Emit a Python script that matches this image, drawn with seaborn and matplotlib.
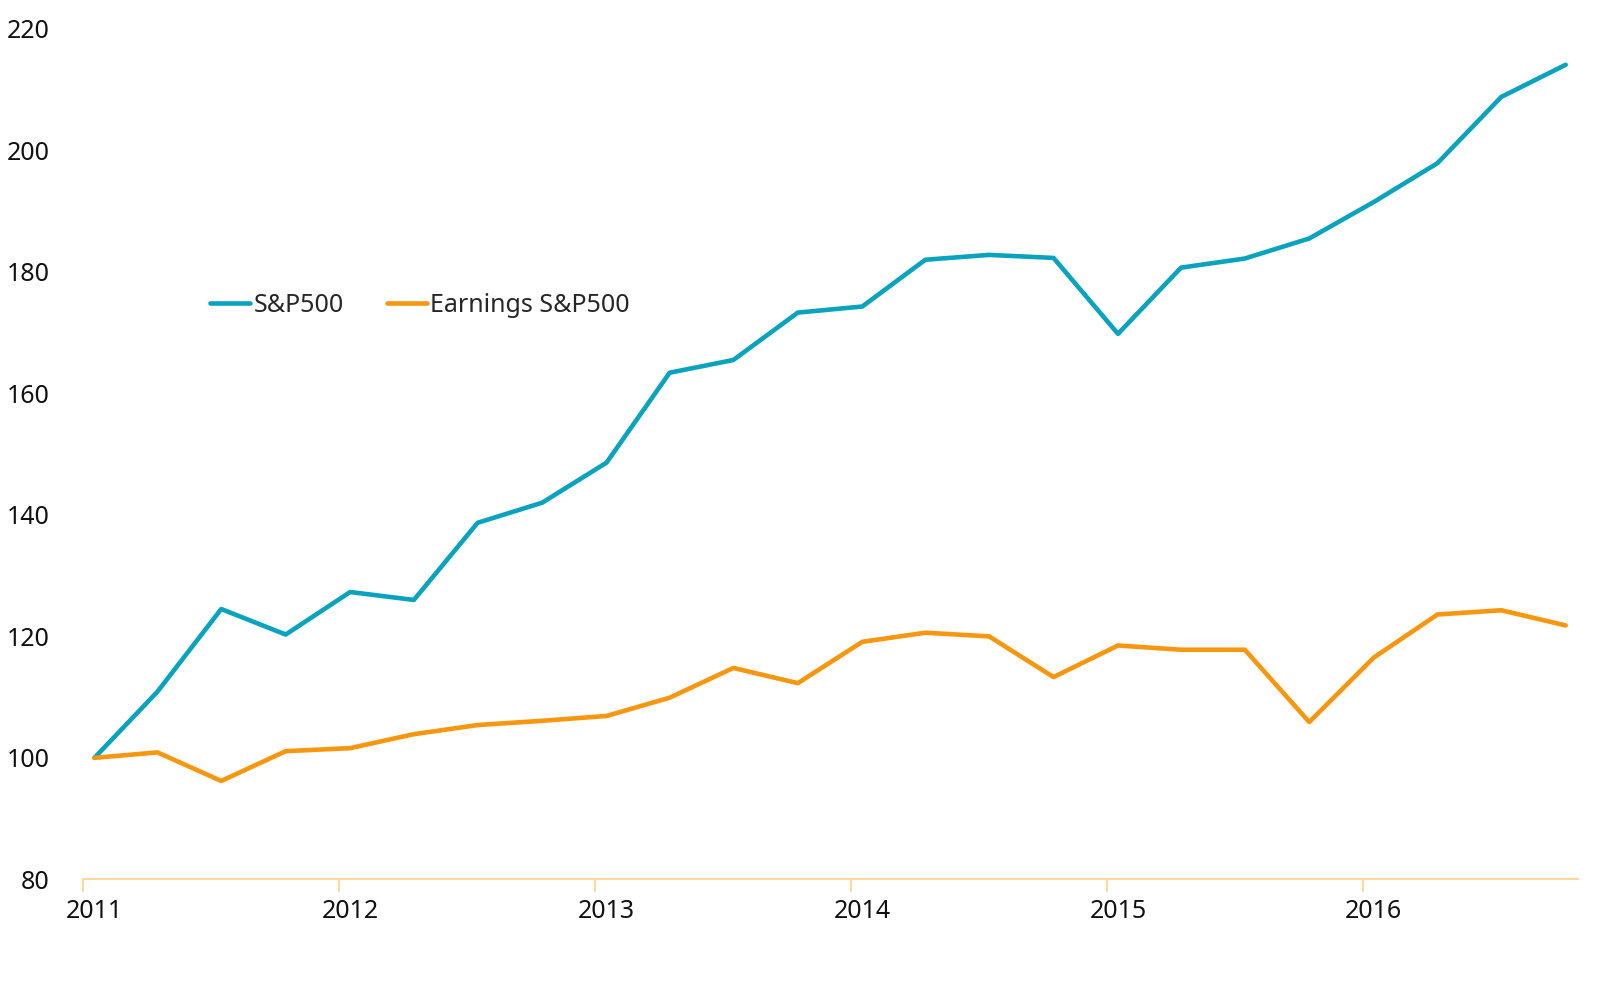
import numpy as np
import pandas as pd
import seaborn as sns
import matplotlib.pyplot as plt
import matplotlib.dates as mdates

# quarterly observations, indexed to 100 at start of 2011
quarters = pd.date_range("2011-01-01", periods=24, freq="QS") + pd.Timedelta(days=16)

sp500 = [100.0, 110.9, 124.5, 120.3, 127.3, 126.0, 138.7, 142.0,
         148.6, 163.4, 165.5, 173.3, 174.3, 182.0, 182.8, 182.3,
         169.8, 180.7, 182.2, 185.5, 191.5, 197.9, 208.8, 214.1]
earnings = [100.0, 100.9, 96.2, 101.1, 101.6, 103.9, 105.4, 106.1,
            106.9, 109.9, 114.8, 112.3, 119.1, 120.6, 120.0, 113.3,
            118.5, 117.8, 117.8, 105.9, 116.5, 123.6, 124.3, 121.8]

series_names = ["S&P500", "Earnings S&P500"]
colors = ["#0aa3bd", "#f7960f"]

df = pd.DataFrame({
    "date": list(quarters) * 2,
    "value": sp500 + earnings,
    "series": [series_names[0]] * 24 + [series_names[1]] * 24,
})

sns.set_style("white")
plt.rcParams["font.family"] = ["Noto Sans", "DejaVu Sans"]

fig = plt.figure(figsize=(16, 9.97), dpi=100)
ax = fig.add_axes([0.052, 0.118, 0.934, 0.853])

sns.lineplot(data=df, x="date", y="value", hue="series", palette=colors,
             linewidth=3.3, ax=ax, legend=True)

ax.set_ylim(80, 220)
ax.set_yticks(np.arange(80, 221, 20))
ax.set_xlim(pd.Timestamp("2011-01-01"), pd.Timestamp("2016-11-03"))

# year ticks at Jan 1, labels centred on first quarter of each year
ax.xaxis.set_major_locator(mdates.YearLocator())
ax.xaxis.set_major_formatter(plt.NullFormatter())
ax.xaxis.set_minor_locator(mdates.MonthLocator(bymonth=1, bymonthday=17))
ax.xaxis.set_minor_formatter(mdates.DateFormatter("%Y"))
ax.tick_params(axis="x", which="major", bottom=True, length=9, width=1.5,
               color="#fdd9a0", direction="out")
ax.tick_params(axis="x", which="minor", bottom=True, length=0, pad=14,
               labelsize=18, labelcolor="#111111")
ax.tick_params(axis="y", length=0, pad=24, labelsize=18, labelcolor="#111111")

for s in ["top", "right", "left"]:
    ax.spines[s].set_visible(False)
ax.spines["bottom"].set_color("#fdd9a0")
ax.spines["bottom"].set_linewidth(1.5)

ax.set_xlabel("")
ax.set_ylabel("")

ax.legend(loc="center left", bbox_to_anchor=(0.085, 0.675), ncol=2, frameon=False,
          fontsize=18, handlelength=1.6, handletextpad=0.15, columnspacing=1.7,
          borderaxespad=0, borderpad=0)

fig.savefig("out.png", dpi=100)
